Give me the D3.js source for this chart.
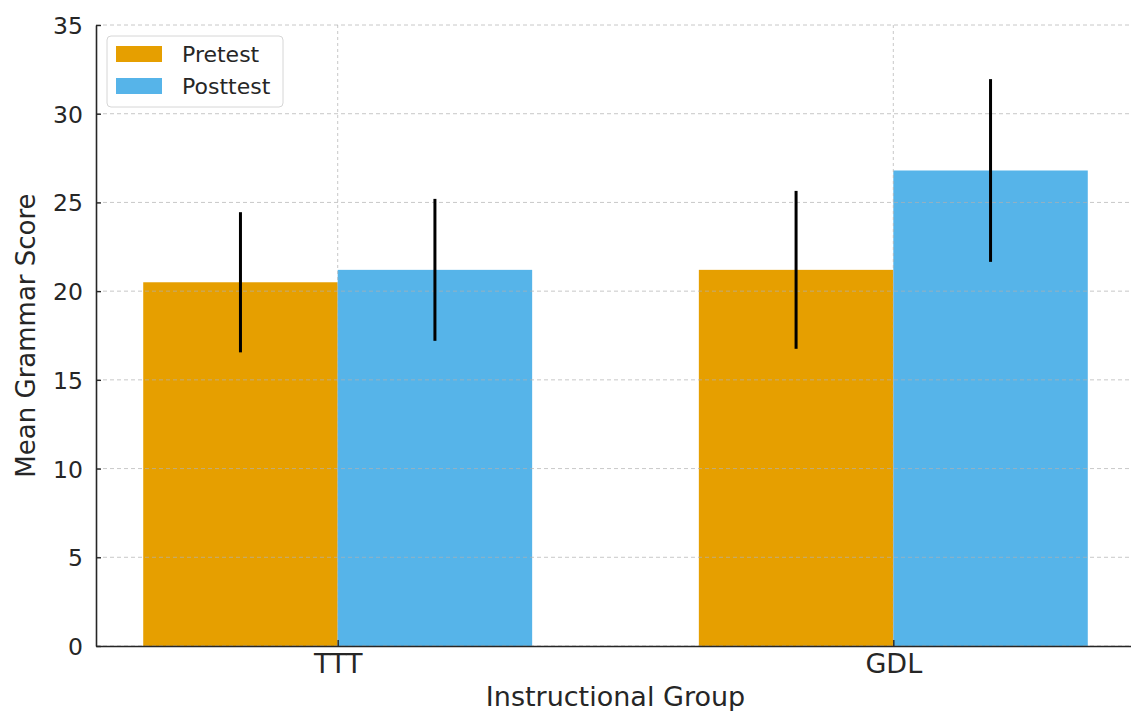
<!DOCTYPE html>
<html>
<head>
<meta charset="utf-8">
<script src="https://cdn.jsdelivr.net/npm/d3@7"></script>
<style>
	body { margin: 0; background: #fff; }
	svg { display: block; font-family: "DejaVu Sans", sans-serif; }
</style>
</head>
<body>
<div id="chart"></div>
<script>
var groups = ['TTT', 'GDL']
var seriesNames = ['Pretest', 'Posttest']
var pretestMean = [20.5, 21.2]
var posttestMean = [21.2, 26.8]
var pretestSD = [3.95, 4.45]
var posttestSD = [4.0, 5.15]
var yTicks = [0, 5, 10, 15, 20, 25, 30, 35]
var colors = ['#E69F00', '#56B4E9']

var width = 1131,
	height = 711

var plotLeft = 96,
	plotRight = 1135,
	plotTop = 25,
	plotBottom = 646

var barWidth = 0.35

var svg = d3.select('#chart').append('svg')
	.attr('width', width)
	.attr('height', height);

var x = d3.scaleLinear()
	.domain([-0.435, 1.435])
	.range([plotLeft, plotRight]);

var y = d3.scaleLinear()
	.domain([0, 35])
	.range([plotBottom, plotTop]);

// long format rows built from the arrays
var rows = []
groups.forEach(function (g, i) {
	rows.push({ group: i, series: 0, mean: pretestMean[i], sd: pretestSD[i] })
	rows.push({ group: i, series: 1, mean: posttestMean[i], sd: posttestSD[i] })
})

function barCenter(d) {
	return d.group + (d.series == 0 ? -barWidth / 2 : barWidth / 2)
}

// bars
svg.selectAll('.bar')
	.data(rows)
	.enter().append('rect')
	.attr('class', 'bar')
	.attr('x', function (d) { return x(barCenter(d) - barWidth / 2); })
	.attr('width', x(barWidth) - x(0))
	.attr('y', function (d) { return y(d.mean); })
	.attr('height', function (d) { return y(0) - y(d.mean); })
	.attr('fill', function (d) { return colors[d.series]; });

// grid on top of bars, like the source
svg.append('g')
	.selectAll('line')
	.data(yTicks)
	.enter().append('line')
	.attr('x1', plotLeft)
	.attr('x2', plotRight)
	.attr('y1', function (d) { return y(d); })
	.attr('y2', function (d) { return y(d); })
	.attr('stroke', '#b0b0b0')
	.attr('stroke-opacity', 0.7)
	.attr('stroke-width', 1)
	.attr('stroke-dasharray', '4,3');

svg.append('g')
	.selectAll('line')
	.data(groups)
	.enter().append('line')
	.attr('x1', function (d, i) { return x(i); })
	.attr('x2', function (d, i) { return x(i); })
	.attr('y1', plotTop)
	.attr('y2', plotBottom)
	.attr('stroke', '#b0b0b0')
	.attr('stroke-opacity', 0.7)
	.attr('stroke-width', 1)
	.attr('stroke-dasharray', '3,3');

// error bars, no caps
svg.selectAll('.err')
	.data(rows)
	.enter().append('line')
	.attr('class', 'err')
	.attr('x1', function (d) { return x(barCenter(d)); })
	.attr('x2', function (d) { return x(barCenter(d)); })
	.attr('y1', function (d) { return y(d.mean - d.sd); })
	.attr('y2', function (d) { return y(d.mean + d.sd); })
	.attr('stroke', '#000')
	.attr('stroke-width', 3);

// axes
var y_axis = d3.axisLeft(y)
	.tickValues(yTicks)
	.tickSizeInner(-5)
	.tickSizeOuter(0)
	.tickPadding(13);

var x_axis = d3.axisBottom(x)
	.tickValues([0, 1])
	.tickFormat(function (d) { return groups[d]; })
	.tickSizeInner(-6)
	.tickSizeOuter(0)
	.tickPadding(8);

var gy = svg.append('g')
	.attr('transform', 'translate(' + plotLeft + ',0)')
	.call(y_axis);

var gx = svg.append('g')
	.attr('transform', 'translate(0,' + plotBottom + ')')
	.call(x_axis);

[gx, gy].forEach(function (g) {
	g.select('.domain').attr('stroke', '#262626').attr('stroke-width', 1.6);
	g.selectAll('.tick line').attr('stroke', '#262626').attr('stroke-width', 1.4);
	g.selectAll('.tick text')
		.attr('fill', '#262626')
		.style('font-family', '"DejaVu Sans", sans-serif');
});
gy.selectAll('.tick text').attr('dy', '0.36em').style('font-size', '23.5px');
gx.selectAll('.tick text').attr('dy', '0.72em').style('font-size', '27px');

// axis titles
svg.append('text')
	.attr('x', (plotLeft + plotRight) / 2)
	.attr('y', 706)
	.attr('text-anchor', 'middle')
	.attr('fill', '#262626')
	.style('font-size', '27px')
	.text('Instructional Group');

svg.append('text')
	.attr('transform', 'translate(35,' + (plotTop + plotBottom) / 2 + ') rotate(-90)')
	.attr('text-anchor', 'middle')
	.attr('fill', '#262626')
	.style('font-size', '26px')
	.text('Mean Grammar Score');

// legend
var legend = svg.append('g')
	.attr('transform', 'translate(107,36)');

legend.append('rect')
	.attr('width', 176)
	.attr('height', 71)
	.attr('rx', 4)
	.attr('fill', '#fff')
	.attr('fill-opacity', 0.8)
	.attr('stroke', '#d6d6d6')
	.attr('stroke-width', 1);

var item = legend.selectAll('.item')
	.data(seriesNames)
	.enter().append('g')
	.attr('class', 'item')
	.attr('transform', function (d, i) { return 'translate(9,' + (10 + i * 32) + ')'; });

item.append('rect')
	.attr('width', 46)
	.attr('height', 16)
	.attr('fill', function (d, i) { return colors[i]; });

item.append('text')
	.attr('x', 66)
	.attr('y', 15.5)
	.attr('fill', '#262626')
	.style('font-size', '22px')
	.text(function (d) { return d; });
</script>
</body>
</html>
